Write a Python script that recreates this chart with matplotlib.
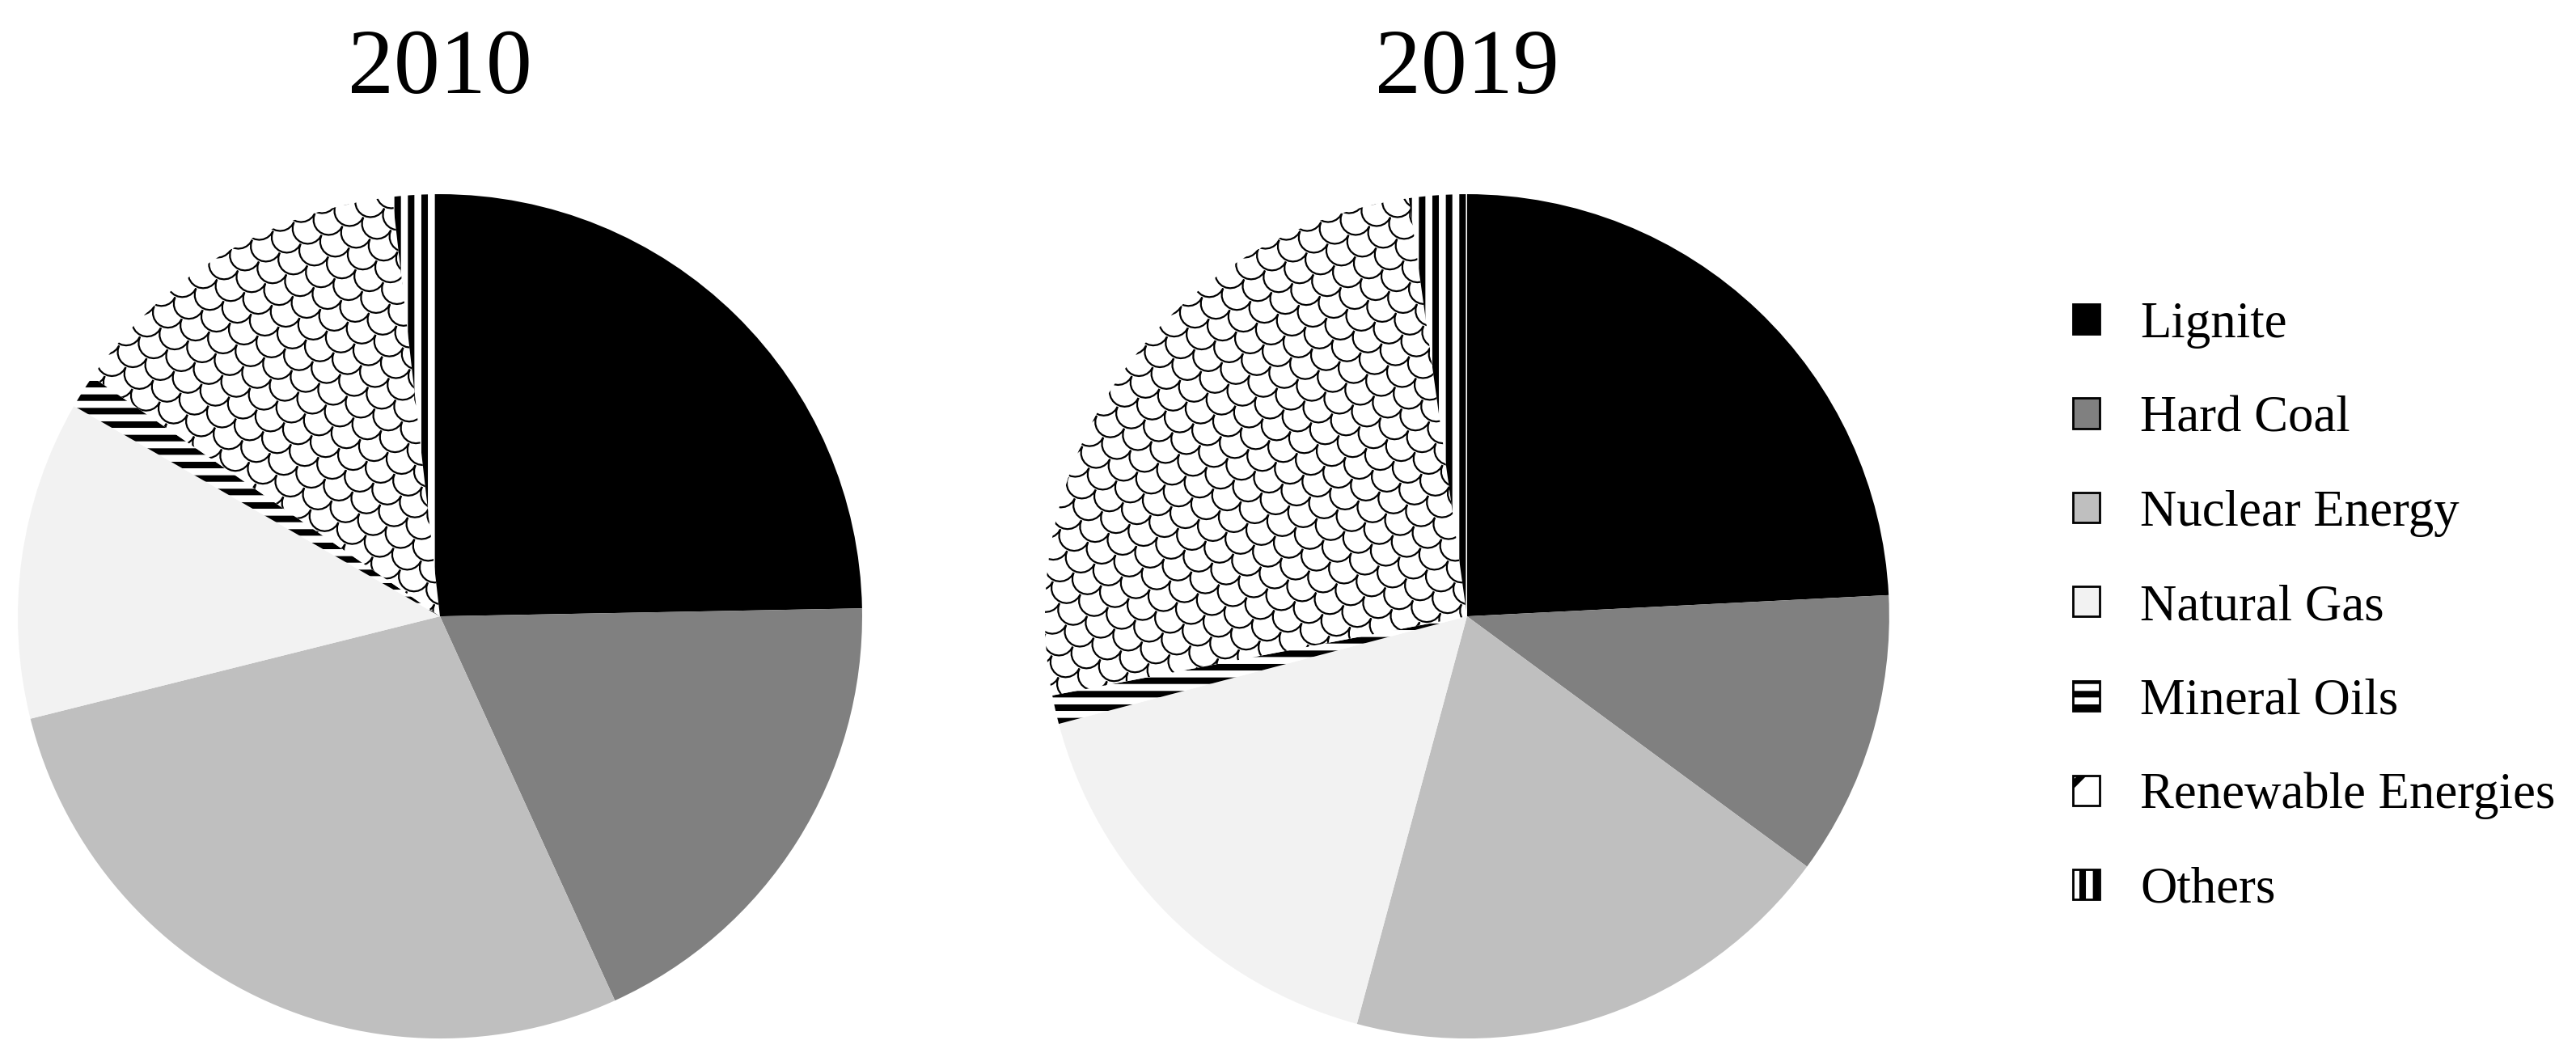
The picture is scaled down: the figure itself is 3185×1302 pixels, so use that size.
import matplotlib
matplotlib.use('Agg')
import matplotlib.pyplot as plt
import numpy as np
from matplotlib.patches import Patch
from matplotlib.collections import LineCollection

plt.rcParams['font.family'] = ['Liberation Serif', 'DejaVu Serif']
plt.rcParams['hatch.linewidth'] = 2.9

# shares in percent (clockwise from 12 o'clock)
sources = ['Lignite', 'Hard Coal', 'Nuclear Energy', 'Natural Gas',
           'Mineral Oils', 'Renewable Energies', 'Others']
share_2010 = [24.7, 18.5, 27.9, 12.2, 1.3, 13.6, 1.8]
share_2019 = [24.2, 10.9, 19.1, 16.7, 1.1, 25.8, 2.2]
years = ['2010', '2019']

colors = ['#000000', '#808080', '#bfbfbf', '#f2f2f2', 'white', 'white', 'white']
hatches = [None, None, None, None, '--', None, '||']
legend_hatches = [None, None, None, None, '--', '/', '||']


def scale_texture(ax, wedge, angle=-25):
    # fish-scale pattern (like the Excel fill) clipped to one wedge
    w, h = 0.072, 0.04
    t = np.linspace(np.pi, 2 * np.pi, 12)
    a = np.deg2rad(angle)
    rot = np.array([[np.cos(a), -np.sin(a)], [np.sin(a), np.cos(a)]])
    segs = []
    for j, y0 in enumerate(np.arange(-1.5, 1.5, h)):
        off = (j % 2) * w / 2
        for x0 in np.arange(-1.5, 1.5, w):
            pts = np.column_stack([x0 + off + w / 2 * np.cos(t), y0 + w / 2 * np.sin(t)])
            segs.append(pts @ rot.T)
    lc = LineCollection(segs, colors='black', linewidths=0.8)
    lc.set_clip_path(wedge)
    ax.add_collection(lc)


fig = plt.figure(figsize=(15.925, 6.51), dpi=200)

centers = [0.1708, 0.5695]
for cx, year, shares in zip(centers, years, [share_2010, share_2019]):
    ax = fig.add_axes([cx - 0.1639, 0.4147 - 0.4009, 0.3278, 0.8018])
    wedges, _ = ax.pie(shares, colors=colors, startangle=90, counterclock=False,
                       radius=1, wedgeprops=dict(linewidth=0, edgecolor='black'))
    for wdg, hch in zip(wedges, hatches):
        if hch:
            wdg.set_hatch(hch)
    scale_texture(ax, wedges[5])
    ax.set_xlim(-1, 1)
    ax.set_ylim(-1, 1)
    ax.axis('off')
    fig.text(cx, 0.933, year, ha='center', va='center', fontsize=41)

handles = [Patch(facecolor=c, edgecolor='black', hatch=h, linewidth=1)
           for c, h in zip(colors, legend_hatches)]
fig.legend(handles, sources, loc='center left', bbox_to_anchor=(0.8047, 0.423),
           frameon=False, fontsize=22.6, handlelength=0.53, handleheight=0.53,
           handletextpad=0.8, labelspacing=0.93, borderpad=0, borderaxespad=0)

fig.savefig('out.png', dpi=200)
